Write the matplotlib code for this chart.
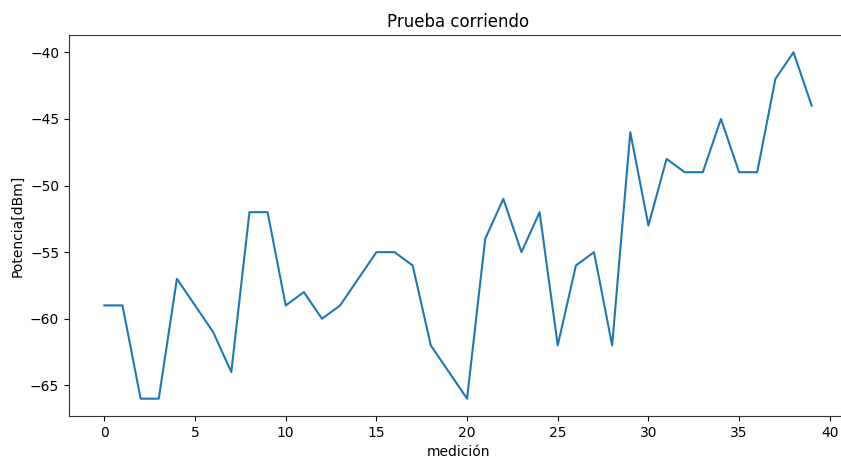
import matplotlib
matplotlib.use("Agg")
import matplotlib.pyplot as plt

medicion = list(range(40))
potencia = [-59, -59, -66, -66, -57, -59, -61, -64, -52, -52,
            -59, -58, -60, -59, -57, -55, -55, -56, -62, -64,
            -66, -54, -51, -55, -52, -62, -56, -55, -62, -46,
            -53, -48, -49, -49, -45, -49, -49, -42, -40, -44]

W, H, DPI = 841, 458, 100
fig = plt.figure(figsize=(W / DPI, H / DPI), dpi=DPI)
# the axes run slightly past the right edge of the canvas
ax = fig.add_axes([69 / W, 1 - 416 / H, (847 - 69) / W, (416 - 35) / H])
ax.plot(medicion, potencia, color="#1f77b4", linewidth=1.5)
ax.set_title("Prueba corriendo", fontsize=12)
ax.set_xlabel("medición", fontsize=10)
ax.set_ylabel("Potencia[dBm]", fontsize=10)
ax.tick_params(labelsize=10)
for s in ax.spines.values():
    s.set_color("#333333")
fig.savefig("out.png", dpi=DPI, facecolor="white")
